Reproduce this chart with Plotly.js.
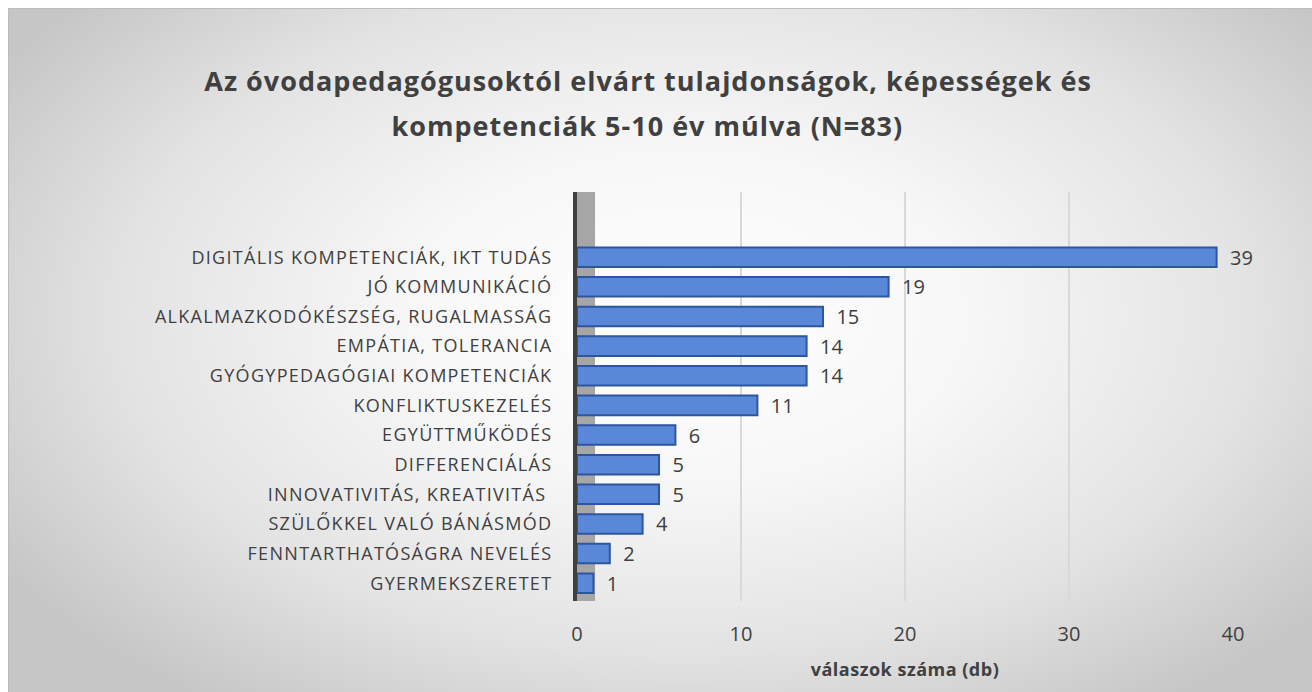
<!DOCTYPE html>
<html>
<head>
<meta charset="utf-8">
<script src="https://cdn.plot.ly/plotly-3.0.1.min.js"></script>
<style>
  html, body { margin: 0; padding: 0; background: #ffffff; }
  #frame {
    position: absolute; left: 8px; top: 8px; width: 1304px; height: 684px;
    box-sizing: border-box; border-top: 1px solid #bdbdbd; border-left: 1px solid #bdbdbd;
    background: radial-gradient(ellipse 62% 70% at 52% 45%, #ffffff 0%, #f7f7f7 35%, #e3e3e3 70%, #c6c6c6 100%);
  }
  #chart { position: absolute; left: 0; top: 0; width: 1312px; height: 692px; }
  #chart .gtitle, #chart .annotation-text { letter-spacing: 1px; }
  #chart .ytick text { letter-spacing: 1.3px; }
  #chart .xtitle { letter-spacing: 0.5px; }
</style>
</head>
<body>
<div id="frame"></div>
<div id="chart"></div>
<script>
const categories = [
  "DIGITÁLIS KOMPETENCIÁK, IKT TUDÁS",
  "JÓ KOMMUNIKÁCIÓ",
  "ALKALMAZKODÓKÉSZSÉG, RUGALMASSÁG",
  "EMPÁTIA, TOLERANCIA",
  "GYÓGYPEDAGÓGIAI KOMPETENCIÁK",
  "KONFLIKTUSKEZELÉS",
  "EGYÜTTMŰKÖDÉS",
  "DIFFERENCIÁLÁS",
  "INNOVATIVITÁS, KREATIVITÁS ",
  "SZÜLŐKKEL VALÓ BÁNÁSMÓD",
  "FENNTARTHATÓSÁGRA NEVELÉS",
  "GYERMEKSZERETET"
];
const values = [39, 19, 15, 14, 14, 11, 6, 5, 5, 4, 2, 1];
const xTicks = [0, 10, 20, 30, 40];
const titleLine1 = "Az óvodapedagógusoktól elvárt tulajdonságok, képességek és";
const titleLine2 = "kompetenciák 5-10 év múlva (N=83)";
const xTitle = "válaszok száma (db)";

const font = "Open Sans, Noto Sans, sans-serif";
const textColor = "#404040";

const trace = {
  type: "bar",
  orientation: "h",
  x: values,
  y: categories,
  marker: { color: "#5A88D8", line: { color: "#2E55A0", width: 2 } },
  width: 0.66,
  text: values.map(v => "\u00a0\u00a0" + v),
  textposition: "outside",
  constraintext: "none",
  cliponaxis: false,
  textfont: { family: font, size: 20, color: textColor },
  hoverinfo: "x+y"
};

const layout = {
  width: 1312, height: 692,
  paper_bgcolor: "rgba(0,0,0,0)",
  plot_bgcolor: "rgba(0,0,0,0)",
  margin: { l: 577, r: 79, t: 192, b: 91 },
  title: {
    text: titleLine1,
    font: { family: font, size: 27, color: textColor, weight: 700 },
    x: 0.494, xanchor: "center", y: 0.882, yanchor: "middle"
  },
  annotations: [
    { text: titleLine2, xref: "paper", yref: "paper",
      x: 0.108, y: 1.163, xanchor: "center", yanchor: "middle", showarrow: false,
      font: { family: font, size: 27, color: textColor, weight: 700 } }
  ],
  showlegend: false,
  xaxis: {
    range: [0, 40],
    tickvals: xTicks,
    ticktext: xTicks.map(String),
    showgrid: true, gridcolor: "#d9d9d9", gridwidth: 1.5,
    zeroline: false, showline: false, ticks: "",
    ticklabelstandoff: 19,
    tickfont: { family: font, size: 20, color: textColor },
    title: { text: xTitle, font: { family: font, size: 18, color: textColor, weight: 700 }, standoff: 17 }
  },
  yaxis: {
    type: "category",
    range: [11.6, -2.2],
    showgrid: false, zeroline: false,
    showline: true, linecolor: "#404040", linewidth: 4,
    ticks: "", ticklabelstandoff: 17,
    tickfont: { family: font, size: 18, color: textColor }
  },
  shapes: [
    { type: "rect", xref: "x", yref: "paper", x0: 0, x1: 1.1, y0: 0, y1: 1,
      fillcolor: "#a6a6a6", line: { width: 0 }, layer: "below" }
  ],
  bargap: 0.32
};

Plotly.newPlot("chart", [trace], layout, { displayModeBar: false, staticPlot: true });
</script>
</body>
</html>
